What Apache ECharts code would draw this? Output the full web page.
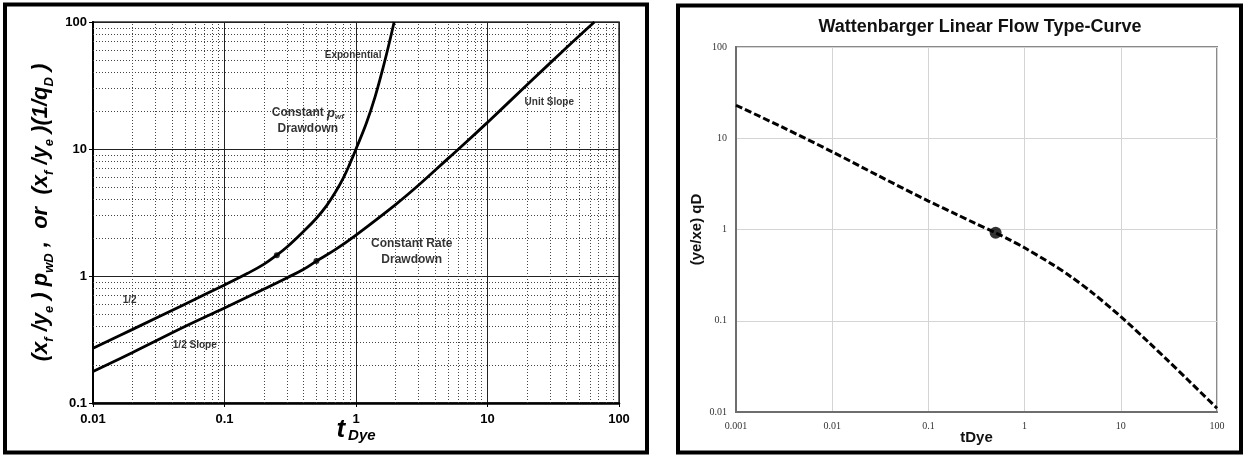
<!DOCTYPE html>
<html>
<head>
<meta charset="utf-8">
<script src="https://cdn.jsdelivr.net/npm/echarts@6/dist/echarts.min.js"></script>
<style>
  html, body { margin: 0; padding: 0; background: #fff; }
  #chart { width: 1243px; height: 455px; }
</style>
</head>
<body>
<div id="chart"></div>
<script>
// ---- Left panel: linear-flow type curves, [tDye, dimensionless value] ----
const constPwfCurve = [
  [0.01, 0.27], [0.02, 0.38], [0.05, 0.60], [0.1, 0.85], [0.15, 1.05],
  [0.2, 1.24], [0.25, 1.46], [0.3, 1.70], [0.4, 2.25], [0.5, 2.85],
  [0.6, 3.6], [0.7, 4.6], [0.8, 5.9], [0.9, 7.7], [1.0, 10],
  [1.2, 16], [1.4, 26], [1.6, 43], [1.8, 70], [1.95, 100]
];
const constRateCurve = [
  [0.01, 0.177], [0.02, 0.25], [0.05, 0.40], [0.1, 0.56], [0.2, 0.79],
  [0.3, 0.97], [0.4, 1.13], [0.5, 1.31], [0.7, 1.62], [1, 2.1],
  [2, 3.65], [3, 5.2], [5, 8.4], [7, 11.5], [10, 16.2],
  [20, 32], [40, 63], [65, 100]
];
const transitionPoints = [[0.25, 1.46], [0.5, 1.31]];

// ---- Right panel: Wattenbarger type curve, [tDye, (ye/xe) qD] ----
const wattenbargerCurve = [
  [0.001, 23], [0.003, 13.3], [0.01, 7.1], [0.03, 3.9], [0.1, 2.05],
  [0.2, 1.45], [0.3, 1.18], [0.5, 0.92], [0.7, 0.77], [1, 0.63],
  [2, 0.407], [3, 0.306], [5, 0.205], [10, 0.111], [20, 0.0566],
  [30, 0.0377], [50, 0.0224], [100, 0.011]
];
const wattenbargerPoint = [[0.5, 0.92]];

// ---- Axis decades (tick labels) ----
const leftXDecades = [0.01, 0.1, 1, 10, 100];
const leftYDecades = [0.1, 1, 10, 100];
const rightXDecades = [0.001, 0.01, 0.1, 1, 10, 100];
const rightYDecades = [0.01, 0.1, 1, 10, 100];

// ---- Curve annotations on the left panel ----
const leftNotes = [
  { text: 'Exponential', at: [0.95, 55], size: 10 },
  { text: 'Constant {i|p}{s|wf}\nDrawdown', at: [0.43, 16.6], size: 12 },
  { text: 'Unit Slope', at: [29.5, 23.5], size: 10 },
  { text: 'Constant Rate\nDrawdown', at: [2.65, 1.54], size: 12 },
  { text: '1/2', at: [0.019, 0.64], size: 10 },
  { text: '1/2 Slope', at: [0.0594, 0.285], size: 10 }
];

const SANS = 'Liberation Sans, Arial, sans-serif';
const SERIF = 'Liberation Serif, Times New Roman, serif';

function fmt(v) { return String(+Number(v).toPrecision(4)); }

// 2..9 multiples inside each decade, for the dotted log grid
function minorGrid(decades) {
  const out = [];
  for (let i = 0; i < decades.length - 1; i++) {
    for (let m = 2; m <= 9; m++) out.push(+(decades[i] * m).toPrecision(4));
  }
  return out;
}

const subStyle = { fontFamily: SANS, fontWeight: 'bold', fontStyle: 'italic', fontSize: 13, verticalAlign: 'bottom', lineHeight: 13 };
const mainStyle = { fontFamily: SANS, fontWeight: 'bold', fontStyle: 'italic', fontSize: 22, lineHeight: 30 };

const chart = echarts.init(document.getElementById('chart'), null, { renderer: 'canvas' });

const option = {
  animation: false,
  backgroundColor: '#fff',
  grid: [
    { left: 93, top: 22, width: 526, height: 381, outerBoundsMode: 'none', containLabel: false,
      show: true, borderColor: '#333', borderWidth: 1.5 },
    { left: 736, top: 47, width: 481, height: 365, outerBoundsMode: 'none', containLabel: false,
      show: true, borderColor: '#8a8a8a', borderWidth: 2 }
  ],
  xAxis: [
    {
      gridIndex: 0, type: 'log', logBase: 10,
      min: leftXDecades[0], max: leftXDecades[leftXDecades.length - 1], splitNumber: leftXDecades.length - 1,
      axisLine: { show: true, onZero: false, lineStyle: { color: '#000', width: 2.5 } },
      axisTick: { show: true, length: 4, lineStyle: { color: '#000', width: 1 } },
      axisLabel: { color: '#000', fontFamily: SANS, fontWeight: 'bold', fontSize: 13, margin: 10, formatter: fmt },
      splitLine: { show: true, lineStyle: { color: '#222', width: 1 } },
      name: '{t|t}{s|Dye}', nameLocation: 'middle', nameGap: 27, nameMoveOverlap: false,
      nameTextStyle: {
        verticalAlign: 'middle',
        rich: {
          t: { fontFamily: SANS, fontWeight: 'bold', fontStyle: 'italic', fontSize: 26, lineHeight: 26, color: '#000' },
          s: { fontFamily: SANS, fontWeight: 'bold', fontStyle: 'italic', fontSize: 15, lineHeight: 15, verticalAlign: 'bottom', color: '#000', padding: [0, 0, 0, 3] }
        }
      }
    },
    {
      gridIndex: 1, type: 'log', logBase: 10,
      min: rightXDecades[0], max: rightXDecades[rightXDecades.length - 1], splitNumber: rightXDecades.length - 1,
      axisLine: { show: true, onZero: false, lineStyle: { color: '#6e6e6e', width: 2 } },
      axisTick: { show: false },
      axisLabel: { color: '#333', fontFamily: SERIF, fontSize: 10, margin: 9, formatter: fmt },
      splitLine: { show: true, lineStyle: { color: '#d4d4d4', width: 1 } },
      name: 'tDye', nameLocation: 'middle', nameGap: 18, nameMoveOverlap: false,
      nameTextStyle: { color: '#111', fontFamily: SANS, fontWeight: 'bold', fontSize: 15 }
    }
  ],
  yAxis: [
    {
      gridIndex: 0, type: 'log', logBase: 10,
      min: leftYDecades[0], max: leftYDecades[leftYDecades.length - 1], splitNumber: leftYDecades.length - 1,
      axisLine: { show: true, onZero: false, lineStyle: { color: '#000', width: 2 } },
      axisTick: { show: true, length: 4, lineStyle: { color: '#000', width: 1 } },
      axisLabel: { color: '#000', fontFamily: SANS, fontWeight: 'bold', fontSize: 13, margin: 6, formatter: fmt },
      splitLine: { show: true, lineStyle: { color: '#222', width: 1 } },
      name: '{m|(x}{s|f}{m| /y}{s|e}{m| ) p}{s|wD}{m| ,  or  (x}{s|f}{m| /y}{s|e}{m| )(1/q}{s|D}{m| )}',
      nameLocation: 'middle', nameGap: 37, nameMoveOverlap: false,
      nameTextStyle: {
        color: '#000',
        rich: { m: Object.assign({ color: '#000' }, mainStyle), s: Object.assign({ color: '#000' }, subStyle) }
      }
    },
    {
      gridIndex: 1, type: 'log', logBase: 10,
      min: rightYDecades[0], max: rightYDecades[rightYDecades.length - 1], splitNumber: rightYDecades.length - 1,
      axisLine: { show: true, onZero: false, lineStyle: { color: '#6e6e6e', width: 2 } },
      axisTick: { show: false },
      axisLabel: { color: '#333', fontFamily: SERIF, fontSize: 10, margin: 9, formatter: fmt },
      splitLine: { show: true, lineStyle: { color: '#d4d4d4', width: 1 } },
      name: '(ye/xe) qD', nameLocation: 'middle', nameGap: 32, nameMoveOverlap: false,
      nameTextStyle: { color: '#111', fontFamily: SANS, fontWeight: 'bold', fontSize: 15 }
    }
  ],
  series: [
    // dotted minor grid of the left panel
    {
      type: 'line', xAxisIndex: 0, yAxisIndex: 0, data: [], silent: true, z: 1,
      markLine: {
        silent: true, symbol: ['none', 'none'], label: { show: false }, animation: false,
        lineStyle: { color: '#444', width: 1, type: [1, 2] },
        emphasis: { disabled: true },
        data: minorGrid(leftXDecades).map(v => ({ xAxis: v }))
          .concat(minorGrid(leftYDecades).map(v => ({ yAxis: v })))
      }
    },
    {
      name: 'Constant pwf Drawdown', type: 'line', xAxisIndex: 0, yAxisIndex: 0,
      data: constPwfCurve, smooth: 0.4, symbol: 'none', z: 5,
      lineStyle: { color: '#000', width: 2.8 }
    },
    {
      name: 'Constant Rate Drawdown', type: 'line', xAxisIndex: 0, yAxisIndex: 0,
      data: constRateCurve, smooth: 0.4, symbol: 'none', z: 5,
      lineStyle: { color: '#000', width: 2.8 }
    },
    {
      type: 'scatter', xAxisIndex: 0, yAxisIndex: 0, data: transitionPoints,
      symbolSize: 6, itemStyle: { color: '#000' }, z: 6
    },
    // curve annotations
    {
      type: 'scatter', xAxisIndex: 0, yAxisIndex: 0, symbolSize: 0, silent: true, z: 7,
      data: leftNotes.map(n => ({
        value: n.at, name: n.text,
        label: {
          show: true, position: 'inside', formatter: '{b}', color: '#000',
          fontFamily: SANS, fontWeight: 'bold', fontSize: n.size, lineHeight: n.size + 4,
          align: 'center',
          rich: {
            i: { fontFamily: SANS, fontWeight: 'bold', fontStyle: 'italic', fontSize: 13, lineHeight: 16, color: '#000' },
            s: { fontFamily: SANS, fontWeight: 'bold', fontStyle: 'italic', fontSize: 8, lineHeight: 8, verticalAlign: 'bottom', color: '#000' }
          }
        }
      }))
    },
    {
      name: 'Wattenbarger', type: 'line', xAxisIndex: 1, yAxisIndex: 1,
      data: wattenbargerCurve, smooth: 0.3, symbol: 'none', z: 5,
      lineStyle: { color: '#000', width: 3, type: [7, 3] }
    },
    {
      type: 'scatter', xAxisIndex: 1, yAxisIndex: 1, data: wattenbargerPoint,
      symbolSize: 12, itemStyle: { color: '#000' }, z: 6
    }
  ],
  graphic: [
    { type: 'rect', silent: true, z: 100, shape: { x: 5, y: 4.5, width: 642, height: 448 },
      style: { fill: 'none', stroke: '#000', lineWidth: 4 } },
    { type: 'rect', silent: true, z: 100, shape: { x: 678, y: 5.5, width: 563, height: 447 },
      style: { fill: 'none', stroke: '#000', lineWidth: 4 } },
    { type: 'text', silent: true, z: 100, x: 980, y: 27,
      style: { text: 'Wattenbarger Linear Flow Type-Curve', fill: '#111',
        font: 'bold 18px ' + SANS, align: 'center', verticalAlign: 'middle',
        textAlign: 'center', textVerticalAlign: 'middle' } }
  ]
};

chart.setOption(option);
</script>
</body>
</html>
